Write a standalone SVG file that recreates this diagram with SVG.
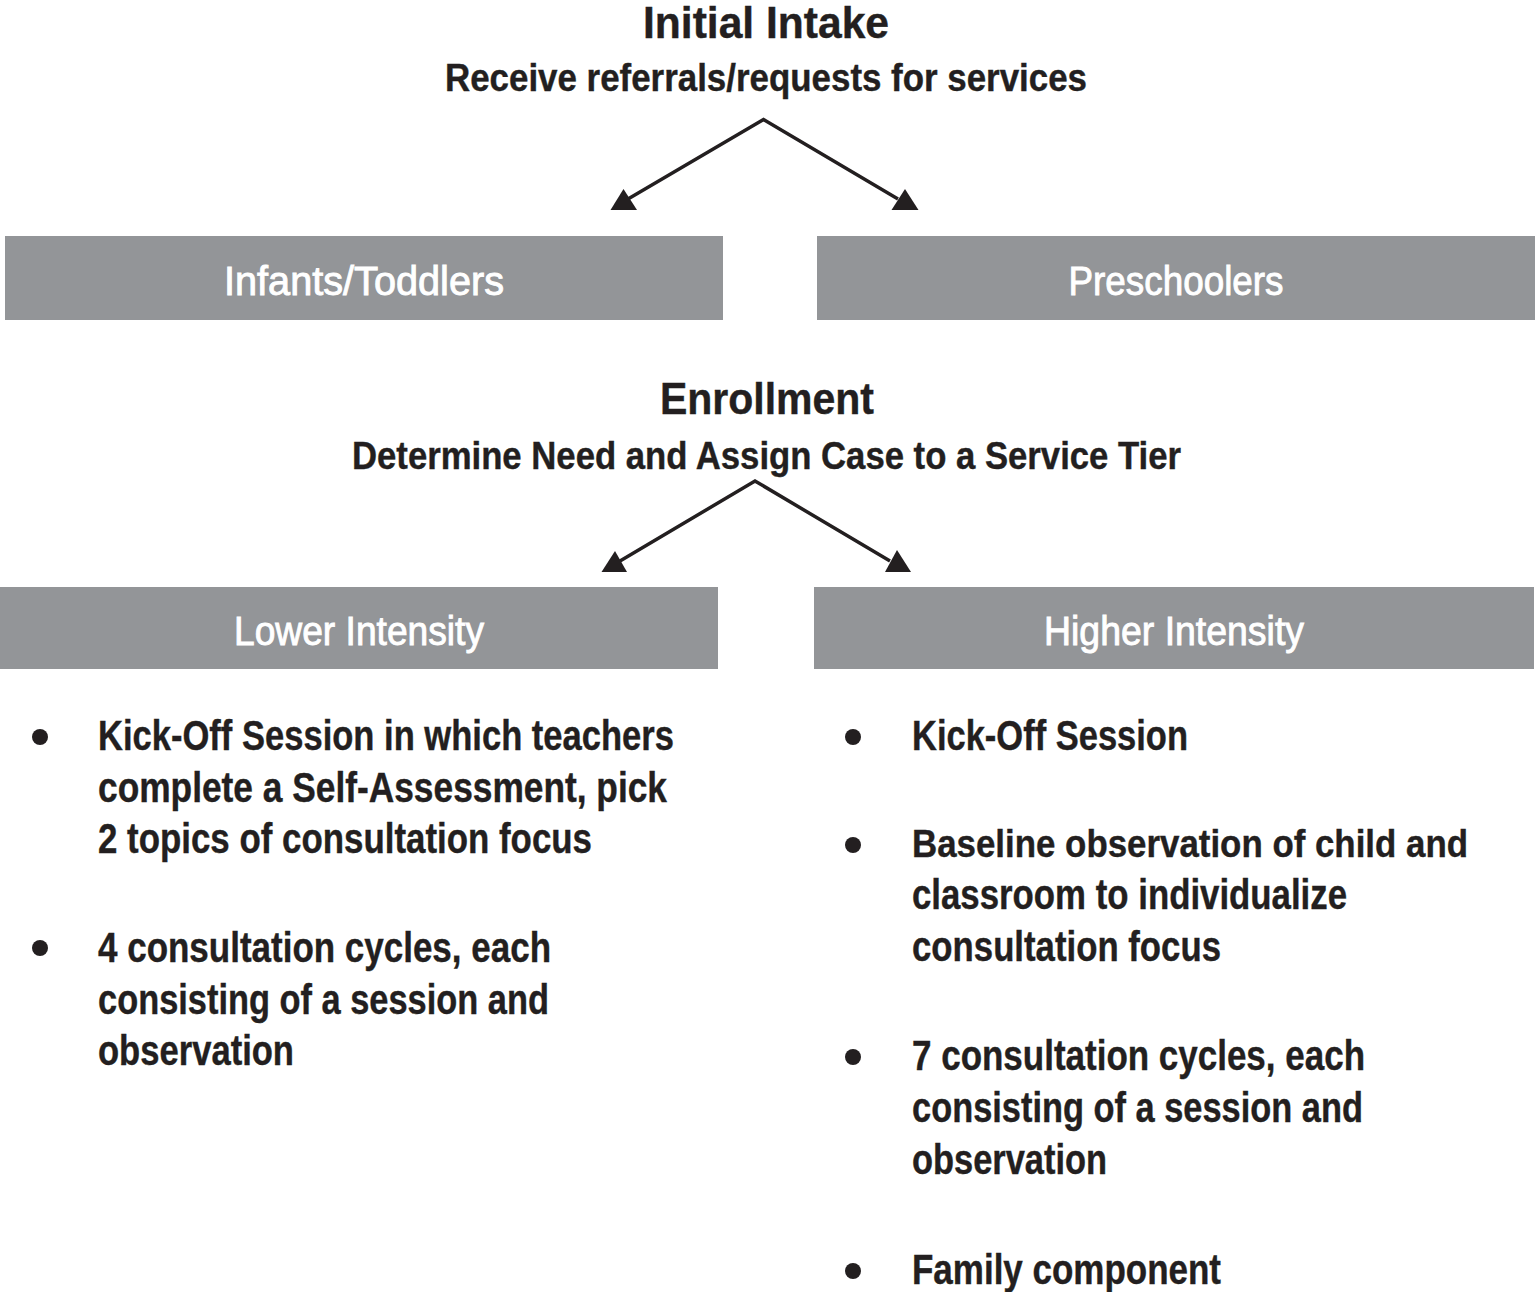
<svg xmlns="http://www.w3.org/2000/svg" width="1537" height="1292" viewBox="0 0 1537 1292">
<style>
.bg{fill:#ffffff}
.box{fill:#939598}
.t{font-family:"Liberation Sans",Arial,sans-serif;font-weight:bold;fill:#231f20;stroke:#231f20;stroke-width:0.4}
.h{font-size:44px;text-anchor:middle}
.s{font-size:38px;text-anchor:middle}
.bt{font-family:"Liberation Sans",Arial,sans-serif;font-size:40px;fill:#ffffff;stroke:#ffffff;stroke-width:0.9;text-anchor:middle}
.b{font-size:42px}
.b2{font-size:39px}
.dot{fill:#231f20}
.ln{stroke:#231f20;stroke-width:3.5;fill:none}
.ah{fill:#231f20}
</style>
<rect class="bg" x="0" y="0" width="1537" height="1292"/>
<g id="intake">
<text class="t h" x="766" y="38" textLength="246" lengthAdjust="spacingAndGlyphs">Initial Intake</text>
<text class="t s" x="766" y="91" textLength="642" lengthAdjust="spacingAndGlyphs">Receive referrals/requests for services</text>
</g>
<g id="infants">
<rect class="box" x="5" y="236" width="718" height="84"/>
<text class="bt" x="364" y="295" textLength="280" lengthAdjust="spacingAndGlyphs">Infants/Toddlers</text>
</g>
<g id="preschoolers">
<rect class="box" x="817" y="236" width="718" height="84"/>
<text class="bt" x="1176" y="295" textLength="215" lengthAdjust="spacingAndGlyphs">Preschoolers</text>
</g>
<g id="enrollment">
<text class="t h" x="767" y="414" textLength="214" lengthAdjust="spacingAndGlyphs">Enrollment</text>
<text class="t s" x="766.5" y="469" textLength="829" lengthAdjust="spacingAndGlyphs">Determine Need and Assign Case to a Service Tier</text>
</g>
<g id="lower">
<rect class="box" x="0" y="587" width="718" height="82"/>
<text class="bt" x="359" y="645" textLength="250" lengthAdjust="spacingAndGlyphs">Lower Intensity</text>
</g>
<g id="higher">
<rect class="box" x="814" y="587" width="720" height="82"/>
<text class="bt" x="1174" y="645" textLength="260" lengthAdjust="spacingAndGlyphs">Higher Intensity</text>
</g>
<g id="lower-list">
<circle class="dot" cx="40" cy="737" r="8"/>
<circle class="dot" cx="40" cy="948" r="8"/>
<text class="t b" x="98" y="750" textLength="576" lengthAdjust="spacingAndGlyphs">Kick-Off Session in which teachers</text>
<text class="t b" x="98" y="802" textLength="569" lengthAdjust="spacingAndGlyphs">complete a Self-Assessment, pick</text>
<text class="t b" x="98" y="853" textLength="494" lengthAdjust="spacingAndGlyphs">2 topics of consultation focus</text>
<text class="t b" x="98" y="962" textLength="453" lengthAdjust="spacingAndGlyphs">4 consultation cycles, each</text>
<text class="t b" x="98" y="1014" textLength="451" lengthAdjust="spacingAndGlyphs">consisting of a session and</text>
<text class="t b" x="98" y="1065" textLength="196" lengthAdjust="spacingAndGlyphs">observation</text>
</g>
<g id="higher-list">
<circle class="dot" cx="853" cy="737" r="8"/>
<circle class="dot" cx="853" cy="845" r="8"/>
<circle class="dot" cx="853" cy="1057" r="8"/>
<circle class="dot" cx="853" cy="1271" r="8"/>
<text class="t b" x="912" y="750" textLength="276" lengthAdjust="spacingAndGlyphs">Kick-Off Session</text>
<text class="t b2" x="912" y="857" textLength="556" lengthAdjust="spacingAndGlyphs">Baseline observation of child and</text>
<text class="t b" x="912" y="909" textLength="435" lengthAdjust="spacingAndGlyphs">classroom to individualize</text>
<text class="t b" x="912" y="961" textLength="309" lengthAdjust="spacingAndGlyphs">consultation focus</text>
<text class="t b" x="912" y="1070" textLength="453" lengthAdjust="spacingAndGlyphs">7 consultation cycles, each</text>
<text class="t b" x="912" y="1122" textLength="451" lengthAdjust="spacingAndGlyphs">consisting of a session and</text>
<text class="t b" x="912" y="1174" textLength="195" lengthAdjust="spacingAndGlyphs">observation</text>
<text class="t b" x="912" y="1284" textLength="309" lengthAdjust="spacingAndGlyphs">Family component</text>
</g>
<g id="connectors">
<polyline class="ln" points="628,199 763.5,119.5 898,199"/>
<polygon class="ah" points="610.5,210 637,210 623.5,189"/>
<polygon class="ah" points="891.5,210 918.5,210 905,189"/>
<polyline class="ln" points="620,561 755,481 890,561"/>
<polygon class="ah" points="601.5,572 627,572 615,551"/>
<polygon class="ah" points="885,572 911,572 897,550"/>
</g>
</svg>
